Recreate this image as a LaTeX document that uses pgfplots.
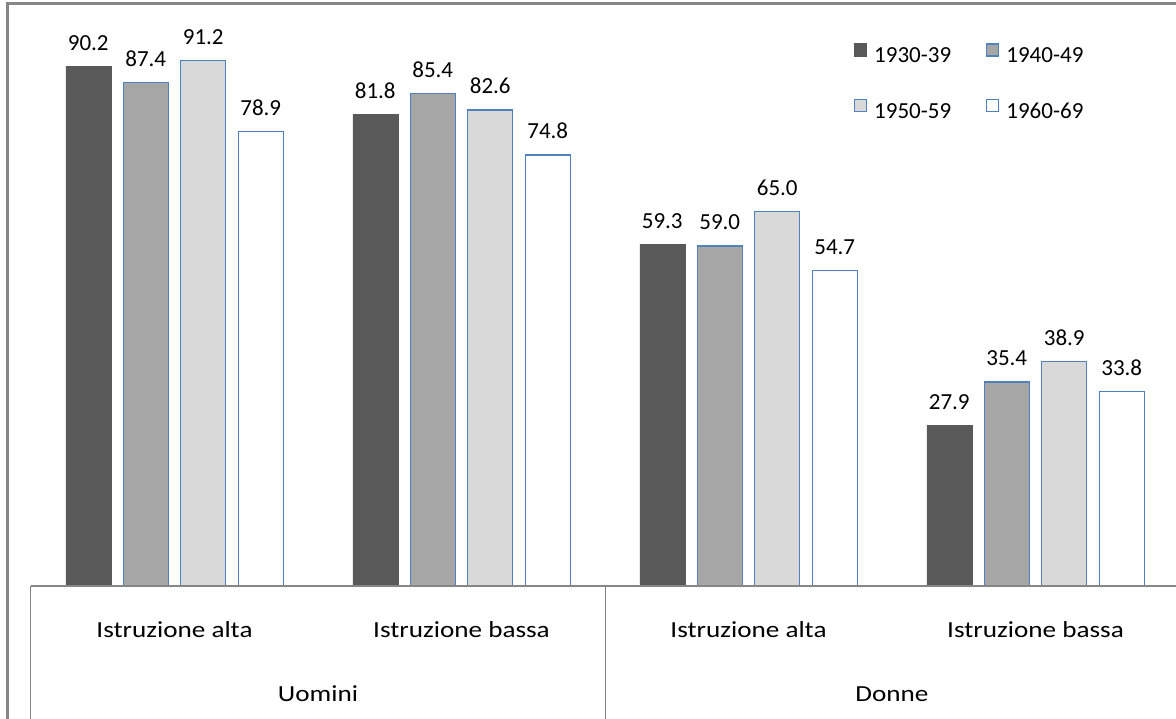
\documentclass[border=0pt]{standalone}
\usepackage{fontspec}
\setmainfont{Carlito}
\newfontfamily\widefont[FakeStretch=1.18]{Carlito}
\usepackage{pgfplots}
\pgfplotsset{compat=1.18}
\definecolor{cA}{HTML}{595959}
\definecolor{cB}{HTML}{A6A6A6}
\definecolor{cC}{HTML}{D9D9D9}
\definecolor{edge}{HTML}{4F81BD}
\definecolor{frame}{HTML}{868686}
\newcommand{\lbl}{\fontsize{23}{27}\selectfont}
\newcommand{\wlbl}{\widefont\fontsize{23}{27}\selectfont}
\begin{document}
\begin{tikzpicture}
\path[use as bounding box] (0pt,0pt) rectangle (1176pt,719pt);
\begin{scope}
\clip (0pt,0pt) rectangle (1176pt,719pt);
\draw[frame, line width=3pt] (7pt,-10pt) -- (7pt,715pt) -- (1190pt,715pt);
\end{scope}
\begin{axis}[
  at={(31pt,133pt)}, anchor=south west,
  scale only axis, width=1145pt, height=581pt,
  xmin=-0.5, xmax=3.4895, ymin=0, ymax=100.8,
  axis y line=none, axis x line=bottom,
  axis on top,
  x axis line style={-, draw=frame, line width=1.4pt},
  ytick=\empty,
  xtick={0,1,2,3},
  xticklabels={Istruzione alta,Istruzione bassa,Istruzione alta,Istruzione bassa},
  major tick length=0pt,
  xticklabel style={font=\wlbl, anchor=base, yshift=-52pt},
  ybar, bar width=45pt,
  clip=false,
  /pgf/number format/assume math mode=true,
  nodes near coords,
  nodes near coords style={font=\lbl, anchor=base, yshift=16pt,
    /pgf/number format/.cd, fixed, fixed zerofill, precision=1},
  legend columns=2,
  legend style={draw=none, fill=none, font=\lbl, inner sep=0pt, outer sep=0pt,
    at={(0.7188,0.9338)}, anchor=north west,
    nodes={inner sep=0pt, outer sep=0pt},
    column sep=7pt, row sep=35pt,
    /tikz/every even column/.append style={column sep=35pt}},
  legend cell align=left,
  legend image code/.code={\draw[#1, line width=1.2pt] (0pt,0pt) rectangle (12pt,12pt);},
]
\addplot[fill=cA, draw=cA, bar shift=-86.25pt] coordinates {(0,90.2) (1,81.8) (2,59.3) (3,27.9)};
\addlegendentry{1930-39}
\addplot[fill=cB, draw=edge, line width=1.3pt, bar shift=-28.75pt] coordinates {(0,87.4) (1,85.4) (2,59.0) (3,35.4)};
\addlegendentry{1940-49}
\addplot[fill=cC, draw=edge, line width=1.3pt, bar shift=28.75pt] coordinates {(0,91.2) (1,82.6) (2,65.0) (3,38.9)};
\addlegendentry{1950-59}
\addplot[fill=white, draw=edge, line width=1.3pt, bar shift=86.25pt] coordinates {(0,78.9) (1,74.8) (2,54.7) (3,33.8)};
\addlegendentry{1960-69}
\draw[frame, line width=1pt] (axis cs:-0.5,0) -- ++(0pt,-140pt);
\draw[frame, line width=1pt] (axis cs:1.5,0) -- ++(0pt,-140pt);
\node[font=\wlbl, anchor=base] at ([yshift=-116pt]axis cs:0.5,0) {Uomini};
\node[font=\wlbl, anchor=base] at ([yshift=-116pt]axis cs:2.5,0) {Donne};
\end{axis}
\end{tikzpicture}
\end{document}
